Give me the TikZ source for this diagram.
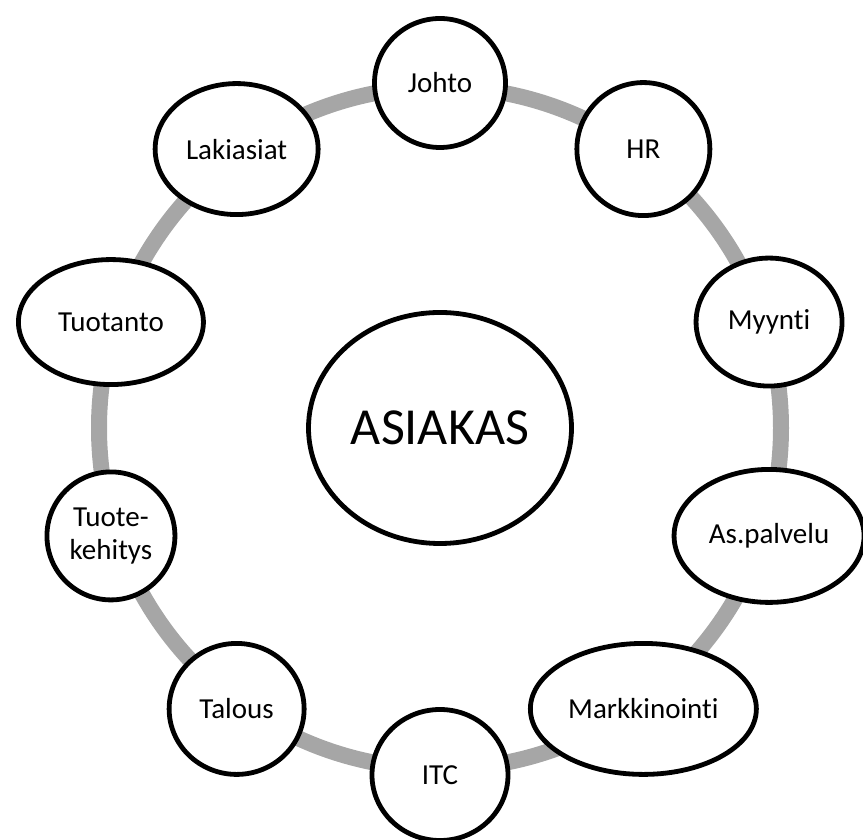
\documentclass[tikz,border=0pt]{standalone}
\usepackage{fontspec}
\setmainfont[Ligatures=NoCommon]{Carlito}
\usetikzlibrary{shapes.geometric}
\definecolor{ringgray}{RGB}{166,166,166}
\begin{document}
\begin{tikzpicture}[x=1pt,y=1pt,
  unit/.style={ellipse, draw=black, line width=4.8pt, fill=white, inner sep=0pt,
    font=\fontsize{29}{33}\selectfont, align=center},
  hub/.style={unit, font=\fontsize{52}{62}\selectfont}]
\useasboundingbox (0,0) rectangle (863,840);
\coordinate (c) at (440,412);
\draw[ringgray, line width=16pt] (c) circle[radius=341];
\begin{scope}[shift={(440,411)}]
\node[unit, minimum width=131pt, minimum height=129pt] (johto) at (90:346) {Johto};
\node[unit, minimum width=133pt, minimum height=133pt] (hr) at (54:346) {HR};
\node[unit, minimum width=146pt, minimum height=128pt] (myynti) at (18:346) {Myynti};
\node[unit, minimum width=190pt, minimum height=133pt] (aspalvelu) at (-18:346) {As.palvelu};
\node[unit, minimum width=226pt, minimum height=131pt] (markkinointi) at (-54:346) {Markkinointi};
\node[unit, minimum width=136pt, minimum height=131pt] (itc) at (-90:346) {ITC};
\node[unit, minimum width=135pt, minimum height=131pt] (talous) at (-126:346) {Talous};
\node[unit, minimum width=128pt, minimum height=128pt] (tuotekehitys) at (-162:346) {Tuote-\\kehitys};
\node[unit, minimum width=185pt, minimum height=125pt] (tuotanto) at (162:346) {Tuotanto};
\node[unit, minimum width=163pt, minimum height=131pt] (lakiasiat) at (126:346) {Lakiasiat};
\end{scope}
\node[hub, minimum width=263pt, minimum height=231pt] (asiakas) at (440,412) {ASIAKAS};
\end{tikzpicture}
\end{document}
